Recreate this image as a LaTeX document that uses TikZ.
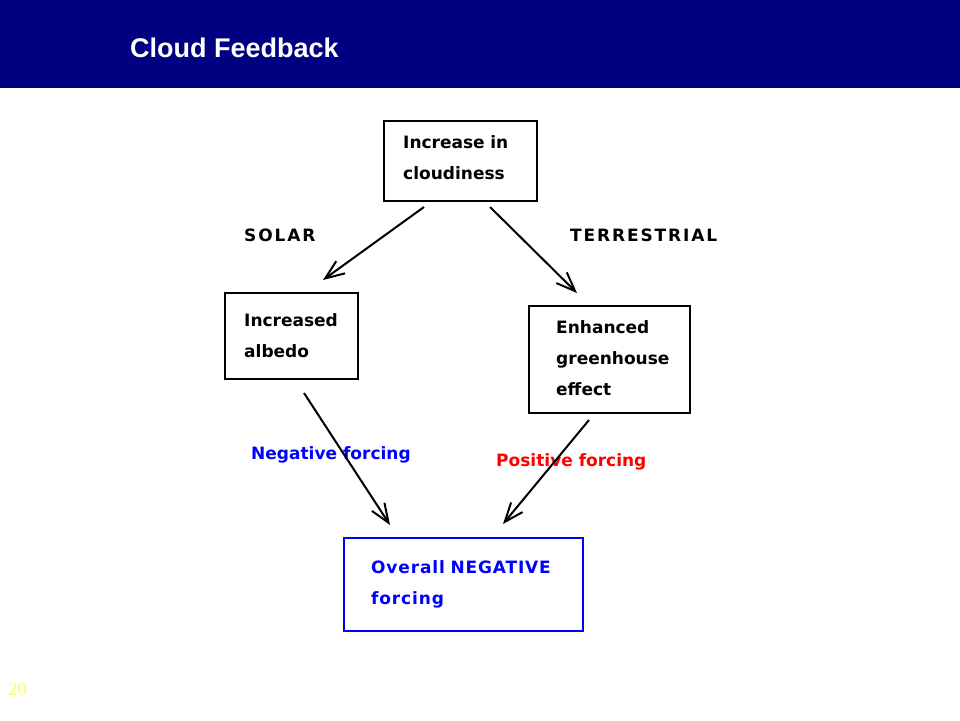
\documentclass[tikz,border=0pt]{standalone}
\usepackage{fontspec}
\setmainfont{DejaVu Sans}
\newfontfamily\titlefont{Liberation Sans}
\newfontfamily\numfont{Liberation Serif}
\usetikzlibrary{arrows.meta}
\definecolor{navyband}{RGB}{0,0,128}
\definecolor{pageyellow}{RGB}{255,255,90}
\definecolor{posred}{RGB}{255,0,0}
\definecolor{negblue}{RGB}{0,0,255}
\tikzset{
  boxnode/.style={draw=black, line width=2.2pt, inner sep=0pt},
  boxtext/.style={inner sep=0pt, anchor=base west, align=left,
    font=\fontsize{17}{31}\selectfont\bfseries},
  lbl/.style={inner sep=0pt, anchor=base west, font=\fontsize{17}{20}\selectfont\bfseries},
  arr/.style={line width=2pt, -{Straight Barb[length=19pt,width=15pt,line width=2pt]}}
}
\begin{document}
\begin{tikzpicture}[x=1pt,y=-1pt]
\useasboundingbox (0,0) rectangle (960,720);
\fill[navyband] (0,0) rectangle (960,88);
\node[inner sep=0pt, anchor=base west, text=white, font=\titlefont\fontsize{27}{30}\selectfont\bfseries] (title) at (130,57) {Cloud Feedback};

\node[boxnode, minimum width=153pt, minimum height=80pt] (top) at (460.5,161) {};
\node[boxtext, text width=130pt] (toptext) at (403,148) {Increase in\\cloudiness};
\node[boxnode, minimum width=133pt, minimum height=86pt] (albedo) at (291.5,336) {};
\node[boxtext, text width=110pt] (albedotext) at (244,326) {Increased\\albedo};
\node[boxnode, minimum width=161pt, minimum height=107pt] (green) at (609.5,359.5) {};
\node[boxtext, text width=130pt] (greentext) at (556,333) {Enhanced\\greenhouse\\effect};
\node[boxnode, draw=negblue, line width=2.6pt, minimum width=239pt, minimum height=93pt] (overall) at (463.5,584.5) {};
\node[boxtext, text=negblue, text width=200pt] (overalltext) at (371,573) {\addfontfeature{LetterSpace=5}Overall NEGATIVE\\forcing};

\node[lbl] (solar) at (244,241.5) {\addfontfeature{LetterSpace=11}SOLAR};
\node[lbl] (terr) at (570,241.5) {\addfontfeature{LetterSpace=11}TERRESTRIAL};
\node[lbl, text=negblue] (neg) at (251,459.5) {Negative forcing};
\node[lbl, text=posred] (pos) at (496,466.5) {Positive forcing};

\coordinate (a1s) at (424,207);
\coordinate (a1e) at (323,280);
\coordinate (a2s) at (490,207);
\coordinate (a2e) at (577,293);
\coordinate (a3s) at (304,393);
\coordinate (a3e) at (390,525);
\coordinate (a4s) at (589,420);
\coordinate (a4e) at (503,524);
\draw[arr] (a1s) -- (a1e);
\draw[arr] (a2s) -- (a2e);
\draw[arr] (a3s) -- (a3e);
\draw[arr] (a4s) -- (a4e);

\node[inner sep=0pt, anchor=base west, text=pageyellow, font=\numfont\fontsize{19}{22}\selectfont] (pg) at (8,695) {20};
\end{tikzpicture}
\end{document}
